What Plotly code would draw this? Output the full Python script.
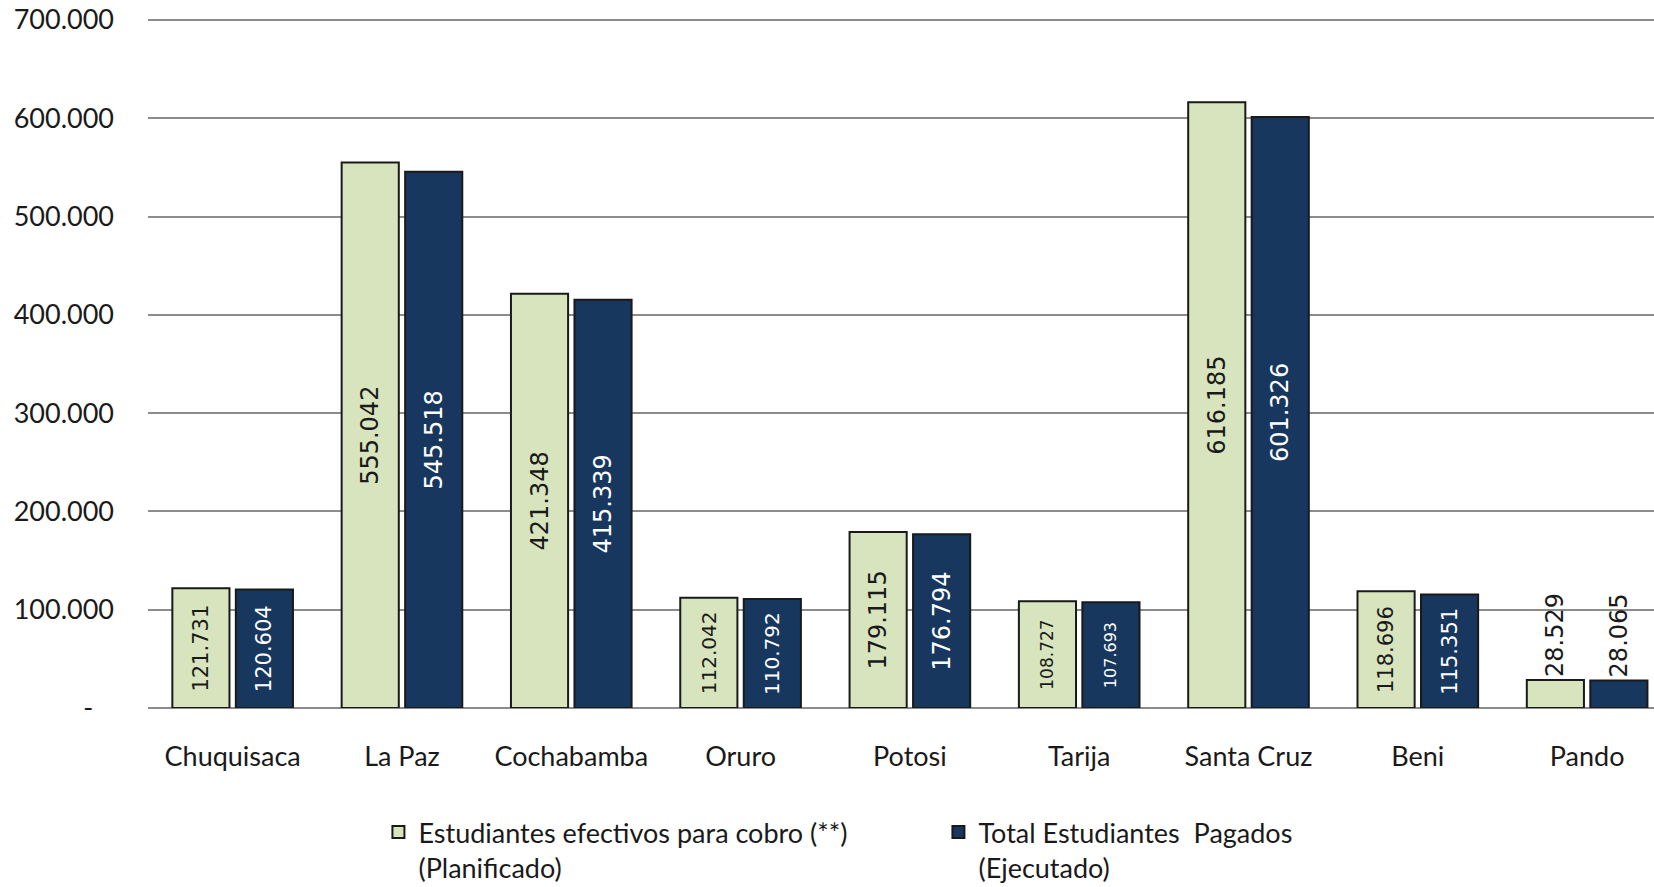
import plotly.graph_objects as go

categories = ["Chuquisaca", "La Paz", "Cochabamba", "Oruro", "Potosi", "Tarija", "Santa Cruz", "Beni", "Pando"]
planificado = [121731, 555042, 421348, 112042, 179115, 108727, 616185, 118696, 28529]
ejecutado = [120604, 545518, 415339, 110792, 176794, 107693, 601326, 115351, 28065]
label_planificado = ["121.731", "555.042", "421.348", "112.042", "179.115", "108.727", "616.185", "118.696", "28.529"]
label_ejecutado = ["120.604", "545.518", "415.339", "110.792", "176.794", "107.693", "601.326", "115.351", "28.065"]
tick_vals = [0, 100000, 200000, 300000, 400000, 500000, 600000, 700000]
tick_text = ["-\u00a0\u00a0\u00a0", "100.000", "200.000", "300.000", "400.000", "500.000", "600.000", "700.000"]
series_names = ["Estudiantes efectivos para cobro (**)<br>(Planificado)",
                "Total Estudiantes  Pagados<br>(Ejecutado)"]

# styles
size_pl = [21, 24, 24, 20, 24, 17, 24, 21, 24]
size_ej = [21, 24, 24, 20, 24, 16, 24, 21, 24]
positions = ["inside"] * 8 + ["outside"]
LIGHT = "#D7E4BD"
DARK = "#17375E"

fig = go.Figure()
fig.add_trace(go.Bar(
    x=categories, y=planificado, name=series_names[0],
    marker=dict(color=LIGHT, line=dict(color="#1a1a1a", width=2)),
    text=label_planificado, textposition=positions, textangle=-90,
    insidetextanchor="middle", constraintext="none", cliponaxis=False,
    textfont=dict(family="DejaVu Sans", size=size_pl, color="#1a1a1a"),
))
fig.add_trace(go.Bar(
    x=categories, y=ejecutado, name=series_names[1],
    marker=dict(color=DARK, line=dict(color="#1a1a1a", width=2)),
    text=label_ejecutado, textposition=positions, textangle=-90,
    insidetextanchor="middle", constraintext="none", cliponaxis=True,
    insidetextfont=dict(family="DejaVu Sans", size=size_ej, color="white"),
    outsidetextfont=dict(family="DejaVu Sans", size=size_ej, color="#1a1a1a"),
))

fig.update_layout(
    width=1654, height=887,
    margin=dict(l=148, r=0, t=18, b=179, autoexpand=False),
    paper_bgcolor="white", plot_bgcolor="white",
    barmode="group", bargap=0.25, bargroupgap=0.10,
    font=dict(family="Lato", size=27, color="#1a1a1a"),
    showlegend=True,
    legend=dict(orientation="h", x=0.153, y=0.089, xref="paper", yref="container",
                xanchor="left", yanchor="top",
                font=dict(family="Lato", size=27, color="#1a1a1a"),
                valign="top", entrywidth=515, itemwidth=30, traceorder="normal"),
)
fig.update_xaxes(range=[-0.5, 8.395], showgrid=False, showline=False, ticks="",
                 automargin=False,
                 ticklabelstandoff=30, tickfont=dict(family="Lato", size=27))
fig.update_yaxes(range=[0, 702000], tickvals=tick_vals, ticktext=tick_text,
                 showgrid=True, gridcolor="#8c8c8c", gridwidth=2,
                 zeroline=True, zerolinecolor="#8c8c8c", zerolinewidth=2,
                 showline=False, ticks="", ticklabelstandoff=33,
                 ticklabeloverflow="allow", automargin=False,
                 tickfont=dict(family="Lato", size=27))

fig.write_html("out.html", config={"displayModeBar": False},
               post_script="document.body.style.margin='0';document.body.style.overflow='hidden';")
